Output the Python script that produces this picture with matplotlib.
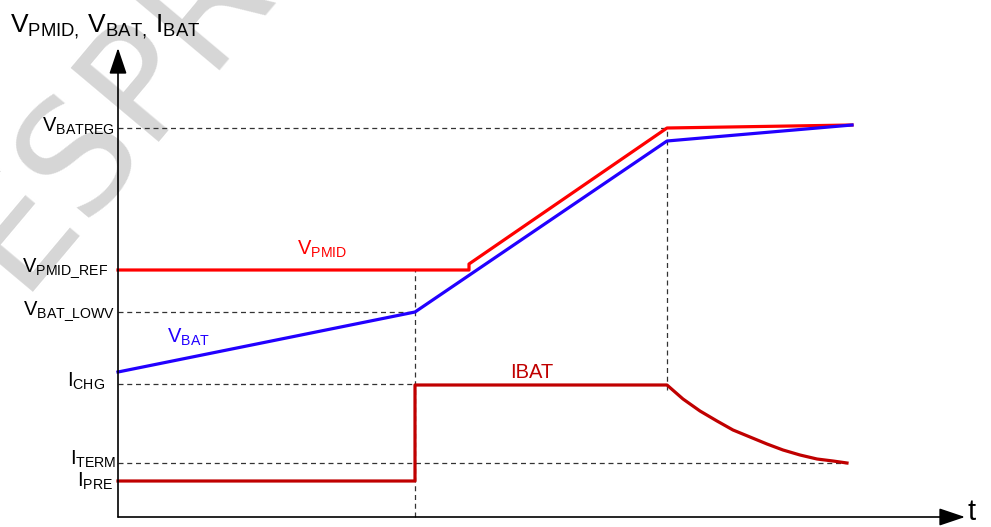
import matplotlib.pyplot as plt
import numpy as np

plt.rcParams['font.family'] = 'Liberation Sans'
plt.rcParams['mathtext.fontset'] = 'custom'
plt.rcParams['mathtext.rm'] = 'Liberation Sans'

# levels on the vertical axis (arbitrary units)
V_BATREG = 389
V_PMID_REF = 247
V_BAT_LOWV = 205
I_CHG = 133
I_TERM = 54
I_PRE = 36

# time marks
t_lowv = 297
t_step = 351
t_reg = 549
t_end = 734

vpmid_t = [0, t_step, t_step, t_reg, t_end]
vpmid_v = [V_PMID_REF, V_PMID_REF, 253, V_BATREG, 392]

vbat_t = [0, t_lowv, t_reg, t_end]
vbat_v = [145, V_BAT_LOWV, 376, 392]

ibat_t = [0, t_lowv, t_lowv, t_reg, 565, 582, 599, 615, 632, 649, 665, 682, 699, 715, 729]
ibat_v = [I_PRE, I_PRE, 132, 132, 118, 106, 96, 87, 80, 73, 67, 62, 58, 56, I_TERM]

fig = plt.figure(figsize=(9.91, 5.27), dpi=100)
ax = fig.add_axes([0, 0, 1, 1])
ax.set_xlim(-118, 873)
ax.set_ylim(-10, 517)
ax.axis('off')

# watermark
ax.text(-100, 225, 'ESPRESSIF', fontsize=112, color='#d6d6d6', rotation=50,
        rotation_mode='anchor', family='DejaVu Sans', ha='left', va='baseline',
        zorder=0)

# dashed guides
dash = dict(color='#333333', lw=0.9, ls=(0, (4, 3)), zorder=1)
ax.plot([0, t_reg], [V_BATREG, V_BATREG], **dash)
ax.plot([0, t_lowv], [V_BAT_LOWV, V_BAT_LOWV], **dash)
ax.plot([0, t_lowv], [I_CHG, I_CHG], **dash)
ax.plot([0, ibat_t[-1]], [I_TERM, I_TERM], **dash)
ax.plot([t_lowv, t_lowv], [0, V_PMID_REF], **dash)
ax.plot([t_reg, t_reg], [127, V_BATREG], **dash)

# curves
ax.plot(vpmid_t, vpmid_v, color='#ff0000', lw=2.3, zorder=3)
ax.plot(vbat_t, vbat_v, color='#2200ff', lw=2.3, zorder=3)
ax.plot(ibat_t, ibat_v, color='#c00000', lw=2.3, zorder=3)

# axes arrows
ax.annotate('', xy=(0, 469), xytext=(0, 0),
            arrowprops=dict(arrowstyle='-|>,head_length=0.8,head_width=0.27',
                            color='black', lw=1.2, mutation_scale=20,
                            shrinkA=0, shrinkB=0))
ax.annotate('', xy=(847, 0), xytext=(0, 0),
            arrowprops=dict(arrowstyle='-|>,head_length=0.8,head_width=0.27',
                            color='black', lw=1.2, mutation_scale=20,
                            shrinkA=0, shrinkB=0))
ax.text(850, -3, 't', fontsize=21, ha='left', va='baseline')

# axis title
ax.text(-108, 485, r'$\mathregular{V_{PMID,}\,V_{BAT,}\,I_{BAT}}$', fontsize=19,
        ha='left', va='baseline')

# level labels
fs = 14.5
ax.text(-3, 385, r'$\mathregular{V_{BATREG}}$', fontsize=fs, ha='right', va='baseline')
ax.text(-10, 245, r'$\mathregular{V_{PMID\_REF}}$', fontsize=fs, ha='right', va='baseline')
ax.text(-3, 202, r'$\mathregular{V_{BAT\_LOWV}}$', fontsize=fs, ha='right', va='baseline')
ax.text(-13, 130, r'$\mathregular{I_{CHG}}$', fontsize=fs, ha='right', va='baseline')
ax.text(-2, 52, r'$\mathregular{I_{TERM}}$', fontsize=fs, ha='right', va='baseline')
ax.text(-5, 30, r'$\mathregular{I_{PRE}}$', fontsize=fs, ha='right', va='baseline')

# curve labels
ax.text(179, 262, r'$\mathregular{V_{PMID}}$', fontsize=fs, color='#ff0000', ha='left', va='baseline')
ax.text(49, 174, r'$\mathregular{V_{BAT}}$', fontsize=fs, color='#2200ff', ha='left', va='baseline')
ax.text(392, 139, 'IBAT', fontsize=fs, color='#c00000', ha='left', va='baseline')

fig.savefig('out.png', dpi=100)
